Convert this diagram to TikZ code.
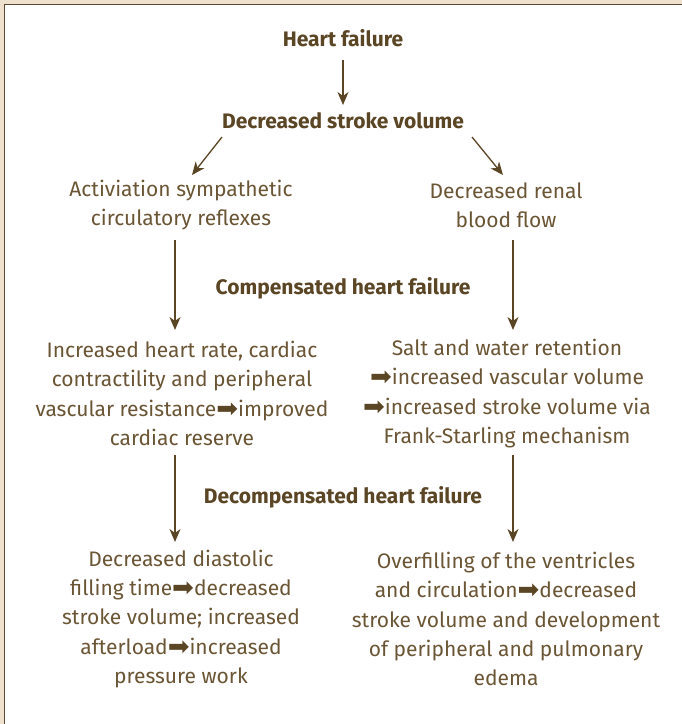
\documentclass[tikz,border=0pt]{standalone}
\usepackage{fontspec}
\setmainfont{Fira Sans}
\newfontfamily\dejavu{DejaVu Sans}
\usetikzlibrary{arrows.meta}
\definecolor{txt}{HTML}{6A5535}
\definecolor{txtb}{HTML}{5A4524}
\definecolor{beige}{HTML}{EEE2CF}
\definecolor{rule}{HTML}{5A4A35}
\newcommand{\ar}{{\fontsize{26}{26}\dejavu\color{txtb}\raisebox{-1pt}{➡}}}
\begin{document}
\begin{tikzpicture}[x=1pt,y=-1pt,
  every node/.style={inner sep=0pt,outer sep=0pt,align=center,text=txt,
    font=\fontsize{21}{29.3}\selectfont},
  head/.style={text=txtb,font=\fontsize{21}{29.3}\selectfont\bfseries},
  arr/.style={draw=txtb,line width=1.3pt,-{Stealth[length=13pt,width=11pt,inset=4pt]}}]
\useasboundingbox (0,0) rectangle (682,724);
\fill[white] (0,0) rectangle (682,724);
\fill[beige] (0,0) rectangle (682,4);
\fill[beige] (0,0) rectangle (4,724);
\draw[rule,line width=1.6pt] (4.5,724) -- (4.5,4.5) -- (682,4.5);

\node[head] (hf) at (343,38) {Heart failure};
\node[head] (dsv) at (343,121) {Decreased stroke volume};
\node (act) at (181,205) {Activiation sympathetic\\circulatory reflexes};
\node (ren) at (506,205) {Decreased renal\\blood flow};
\node[head] (comp) at (343,288) {Compensated heart failure};
\node (inc) at (182,393.5) {Increased heart rate, cardiac\\contractility and peripheral\\vascular resistance\ar improved\\cardiac reserve};
\node (salt) at (507,393.5) {Salt and water retention\\\ar increased vascular volume\\\ar increased stroke volume via\\Frank-Starling mechanism};
\node[head] (decomp) at (343,497) {Decompensated heart failure};
\node (dia) at (181,619) {Decreased diastolic\\filling time\ar decreased\\stroke volume; increased\\afterload\ar increased\\pressure work};
\node (over) at (506,619) {Overfilling of the ventricles\\and circulation\ar decreased\\stroke volume and development\\of peripheral and pulmonary\\edema};

\coordinate (a1s) at (343,60);  \coordinate (a1e) at (343,105);
\coordinate (a2s) at (222,137); \coordinate (a2e) at (192,175);
\coordinate (a3s) at (472,137); \coordinate (a3e) at (503,175);
\coordinate (a4s) at (175,240); \coordinate (a4e) at (175,330);
\coordinate (a5s) at (513,240); \coordinate (a5e) at (513,330);
\coordinate (a6s) at (175,455); \coordinate (a6e) at (175,542);
\coordinate (a7s) at (513,455); \coordinate (a7e) at (513,542);
\draw[arr] (a1s) -- (a1e);
\draw[arr] (a2s) -- (a2e);
\draw[arr] (a3s) -- (a3e);
\draw[arr] (a4s) -- (a4e);
\draw[arr] (a5s) -- (a5e);
\draw[arr] (a6s) -- (a6e);
\draw[arr] (a7s) -- (a7e);
\end{tikzpicture}
\end{document}
